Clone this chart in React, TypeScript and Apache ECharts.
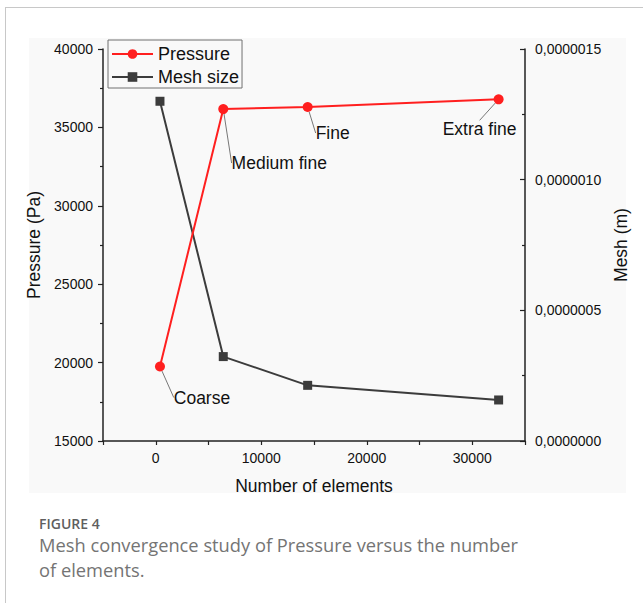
import React, { useEffect, useRef } from "react";
import * as echarts from "echarts";

const elements = [400, 6400, 14400, 32500];
const pressure = [19750, 36170, 36300, 36790];
const meshSize = [1.3e-6, 3.23e-7, 2.13e-7, 1.57e-7];
const meshLabels = ["Coarse", "Medium fine", "Fine", "Extra fine"];
const xTickLabels = [0, 10000, 20000, 30000];

const labelOffsets = [
  [42, 31],
  [56, 54],
  [25, 26],
  [-19, 30],
];

const FONT = "'Liberation Sans', Arial, sans-serif";
const CAPTION_FONT = "'Open Sans', 'Noto Sans', sans-serif";

export default function App() {
  const ref = useRef<HTMLDivElement>(null);
  useEffect(() => {
    if (!ref.current) return;
    const chart = echarts.init(ref.current, undefined, { renderer: "svg" });
    const axisLineStyle = { color: "#222", width: 1.5 };
    const tickStyle = { color: "#222", width: 1.2 };
    const option: any = {
      animation: false,
      backgroundColor: "#ffffff",
      textStyle: { fontFamily: FONT },
      graphic: [
        { type: "rect", z: -10, silent: true, shape: { x: 29, y: 38, width: 597, height: 455 }, style: { fill: "#f9f9f9" } },
        { type: "line", z: -5, shape: { x1: 5, y1: 7.5, x2: 643, y2: 7.5 }, style: { stroke: "#c8c8c8", lineWidth: 1 } },
        { type: "line", z: -5, shape: { x1: 5.5, y1: 7, x2: 5.5, y2: 603 }, style: { stroke: "#c8c8c8", lineWidth: 1 } },
        { type: "text", x: 39, y: 516, style: { text: "FIGURE 4", font: `600 14px ${CAPTION_FONT}`, fill: "#5f5f5f" } },
        { type: "text", x: 39, y: 535, style: { text: "Mesh convergence study of Pressure versus the number", font: `18.3px ${CAPTION_FONT}`, fill: "#747474" } },
        { type: "text", x: 39, y: 560, style: { text: "of elements.", font: `18.3px ${CAPTION_FONT}`, fill: "#747474" } },
      ],
      legend: {
        orient: "vertical",
        left: 108,
        top: 40,
        padding: [5, 3, 2, 3],
        itemGap: 5,
        itemWidth: 41,
        itemHeight: 12,
        borderColor: "#707070",
        borderWidth: 1,
        textStyle: { fontSize: 18, color: "#111", fontFamily: FONT },
        data: ["Pressure", "Mesh size"],
      },
      grid: { left: 103, top: 49, width: 422, height: 392, containLabel: false },
      xAxis: {
        type: "value",
        min: -5000,
        max: 35000,
        interval: 5000,
        name: "Number of elements",
        nameLocation: "middle",
        nameGap: 36,
        nameTextStyle: { fontSize: 17.5, color: "#111", fontFamily: FONT },
        axisLine: { show: true, onZero: false, lineStyle: axisLineStyle },
        axisTick: { show: true, length: 4, lineStyle: tickStyle },
        axisLabel: {
          fontSize: 14,
          color: "#111",
          margin: 10,
          fontFamily: FONT,
          formatter: (v: number) => (xTickLabels.indexOf(v) >= 0 ? String(v) : ""),
        },
        splitLine: { show: false },
      },
      yAxis: [
        {
          type: "value",
          min: 15000,
          max: 40000,
          interval: 5000,
          name: "Pressure (Pa)",
          nameLocation: "middle",
          nameGap: 53,
          nameTextStyle: { fontSize: 17.5, color: "#111", fontFamily: FONT },
          axisLine: { show: true, onZero: false, lineStyle: axisLineStyle },
          axisTick: { show: true, length: 5, lineStyle: tickStyle },
          minorTick: { show: true, splitNumber: 2, length: 3, lineStyle: tickStyle },
          axisLabel: { fontSize: 14, color: "#111", margin: 10, fontFamily: FONT, formatter: (v: number) => String(v) },
          splitLine: { show: false },
        },
        {
          type: "value",
          min: 0,
          max: 1.5e-6,
          interval: 5e-7,
          position: "right",
          name: "Mesh (m)",
          nameLocation: "middle",
          nameRotate: 90,
          nameGap: 78,
          nameTextStyle: { fontSize: 17.5, color: "#111", fontFamily: FONT },
          axisLine: { show: true, onZero: false, lineStyle: axisLineStyle },
          axisTick: { show: true, inside: true, length: 5, lineStyle: tickStyle },
          minorTick: { show: true, splitNumber: 2, length: 3, lineStyle: tickStyle },
          axisLabel: {
            fontSize: 14,
            color: "#111",
            margin: 10,
            fontFamily: FONT,
            formatter: (v: number) => v.toFixed(7).replace(".", ","),
          },
          splitLine: { show: false },
        },
      ],
      series: [
        {
          name: "Mesh size",
          type: "line",
          yAxisIndex: 1,
          data: elements.map((x, i) => [x, meshSize[i]]),
          symbol: "rect",
          symbolSize: 9,
          itemStyle: { color: "#3c3c3c" },
          lineStyle: { color: "#3c3c3c", width: 2 },
          z: 3,
        },
        {
          name: "Pressure",
          type: "line",
          yAxisIndex: 0,
          data: elements.map((x, i) => [x, pressure[i]]),
          symbol: "circle",
          symbolSize: 10,
          itemStyle: { color: "#ff1f1f" },
          lineStyle: { color: "#ff1f1f", width: 2 },
          z: 4,
          label: {
            show: true,
            position: "inside",
            formatter: (p: any) => meshLabels[p.dataIndex],
            fontSize: 17.5,
            color: "#111",
            fontFamily: FONT,
          },
          labelLayout: (p: any) => ({ dx: labelOffsets[p.dataIndex][0], dy: labelOffsets[p.dataIndex][1] }),
          labelLine: { show: true, lineStyle: { color: "#555", width: 0.8 } },
        },
      ],
    };
    chart.setOption(option);
    return () => chart.dispose();
  }, []);
  return (
    <div style={{ position: "absolute", left: 0, top: 0, width: 643, height: 603 }}>
      <div ref={ref} style={{ width: 643, height: 603 }} />
    </div>
  );
}
